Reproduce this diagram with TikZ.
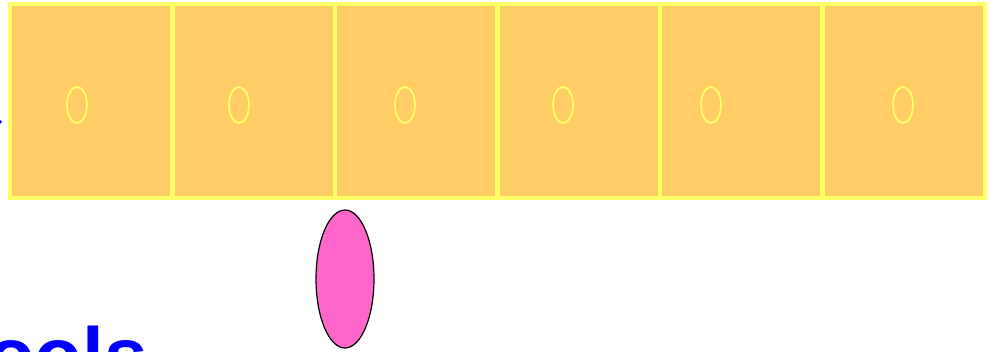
\documentclass[tikz,border=0pt]{standalone}
\usepackage{fontspec}
\setmainfont{Liberation Sans}
\usetikzlibrary{shapes.geometric}
\definecolor{cellfill}{HTML}{FFCC66}
\definecolor{cellline}{HTML}{FFFF66}
\definecolor{pinkfill}{HTML}{FF66CC}
\begin{document}
\begin{tikzpicture}[x=1pt,y=-1pt,
  cell/.style={draw=cellline,fill=cellfill,line width=4.5pt,minimum width=162.5pt,minimum height=194pt,inner sep=0pt,outer sep=0pt},
  zero/.style={ellipse,draw=cellline,line width=1.8pt,minimum width=20pt,minimum height=36pt,inner sep=0pt},
  token/.style={ellipse,draw=black,fill=pinkfill,line width=1.2pt,minimum width=58pt,minimum height=138pt,inner sep=0pt},
  title/.style={text=blue,font=\bfseries\fontsize{78}{78}\selectfont,inner sep=0pt,anchor=base west}]
\useasboundingbox (0,0) rectangle (994,352);
\clip (0,0) rectangle (994,352);
\foreach \i in {1,...,6}{
  \node[cell] (c\i) at ({10+162.5*(\i-0.5)},101) {};
}
\node[zero] (z1) at (77,105) {};
\node[zero] (z2) at (239,105) {};
\node[zero] (z3) at (405,105) {};
\node[zero] (z4) at (563,105) {};
\node[zero] (z5) at (711,105) {};
\node[zero] (z6) at (903,105) {};
\node[token] (p) at (345,279) {};
\node[title] (t) at (-13,383) {ools};
\fill[blue] (0,120) -- (2,122) -- (0,124) -- cycle;
\end{tikzpicture}
\end{document}
